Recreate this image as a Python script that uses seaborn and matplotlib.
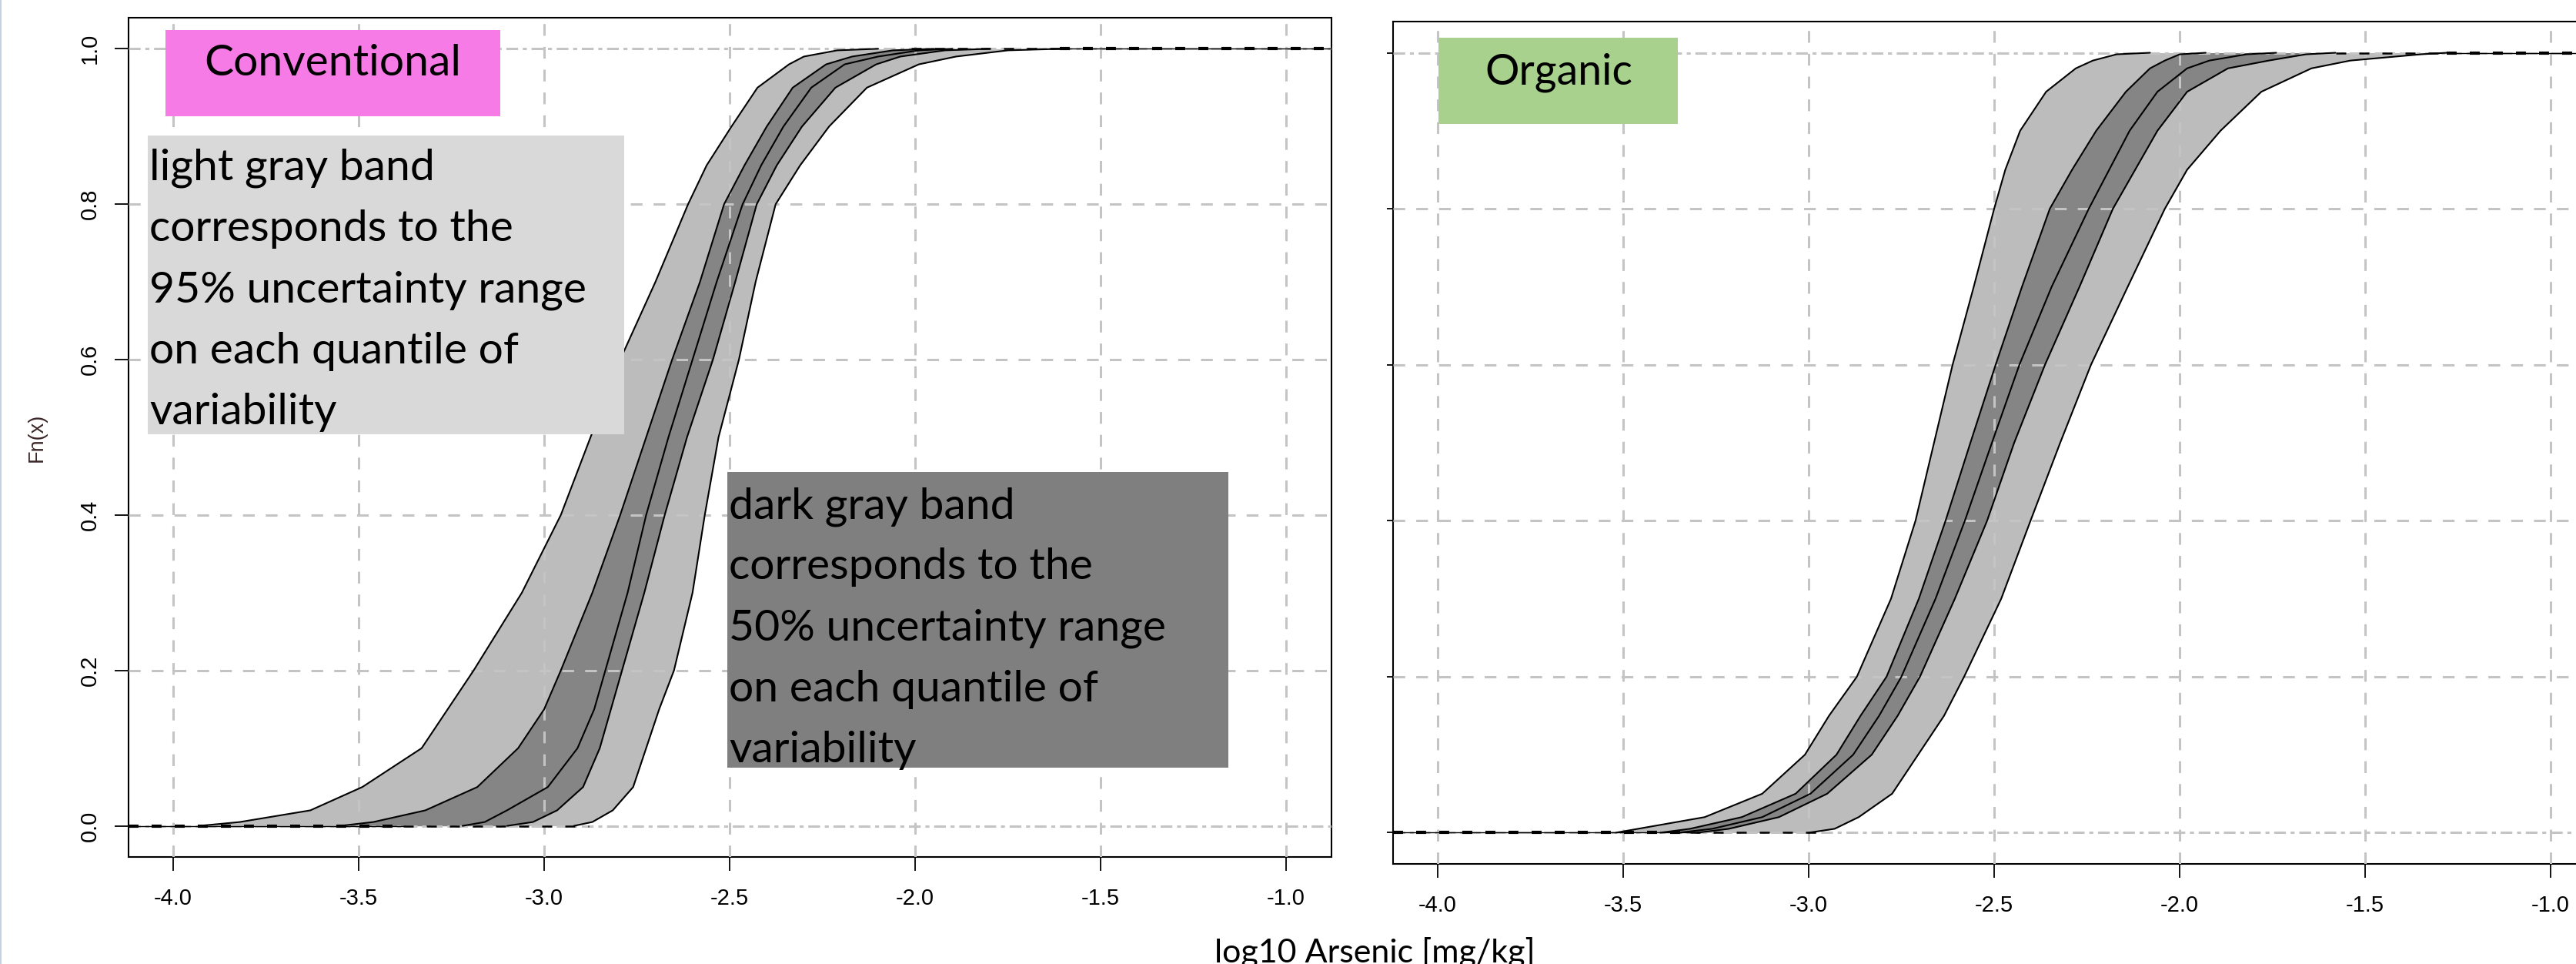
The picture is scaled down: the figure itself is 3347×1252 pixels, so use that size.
import matplotlib
matplotlib.use("Agg")
import matplotlib.pyplot as plt
import seaborn as sns
import numpy as np
from matplotlib.patches import Rectangle
from matplotlib.lines import Line2D

W, H = 3347, 1252

# probability levels shared by all quantile curves
niveis = [0, 0.005, 0.02, 0.05, 0.1, 0.15, 0.2, 0.3, 0.4, 0.5, 0.6, 0.7,
          0.8, 0.85, 0.9, 0.95, 0.98, 0.99, 0.998, 1.0]

# Conventional: log10 arsenic at each level, for the 2.5/25/50/75/97.5 % curves
conv_q025 = [-3.93, -3.82, -3.63, -3.49, -3.33, -3.26, -3.19, -3.06, -2.955, -2.875,
             -2.795, -2.70, -2.612, -2.562, -2.495, -2.425, -2.34, -2.30, -2.21, -2.10]
conv_q25 = [-3.55, -3.46, -3.32, -3.18, -3.07, -3.00, -2.955, -2.87, -2.795, -2.725,
            -2.655, -2.58, -2.515, -2.46, -2.40, -2.33, -2.24, -2.17, -2.06, -1.95]
conv_q50 = [-3.22, -3.16, -3.10, -2.99, -2.91, -2.865, -2.835, -2.775, -2.725, -2.665,
            -2.60, -2.535, -2.465, -2.415, -2.355, -2.28, -2.19, -2.10, -1.99, -1.90]
conv_q75 = [-3.10, -3.03, -2.965, -2.895, -2.85, -2.82, -2.79, -2.73, -2.675, -2.615,
            -2.545, -2.485, -2.427, -2.373, -2.305, -2.215, -2.105, -2.04, -1.92, -1.80]
conv_q975 = [-2.92, -2.87, -2.815, -2.76, -2.725, -2.69, -2.65, -2.60, -2.567, -2.53,
             -2.475, -2.43, -2.376, -2.31, -2.232, -2.13, -1.99, -1.89, -1.75, -1.61]

# Organic
org_q025 = [-3.52, -3.46, -3.28, -3.125, -3.01, -2.945, -2.87, -2.778, -2.712, -2.662,
            -2.612, -2.555, -2.50, -2.47, -2.43, -2.36, -2.28, -2.234, -2.17, -2.08]
org_q25 = [-3.40, -3.32, -3.18, -3.035, -2.925, -2.86, -2.79, -2.703, -2.631, -2.564,
           -2.496, -2.425, -2.35, -2.29, -2.225, -2.145, -2.08, -2.04, -2.00, -1.93]
org_q50 = [-3.35, -3.26, -3.125, -2.995, -2.88, -2.81, -2.75, -2.658, -2.579, -2.506,
           -2.432, -2.345, -2.245, -2.19, -2.135, -2.06, -1.98, -1.92, -1.82, -1.74]
org_q75 = [-3.30, -3.215, -3.08, -2.95, -2.83, -2.76, -2.70, -2.606, -2.519, -2.446,
           -2.363, -2.27, -2.18, -2.12, -2.06, -1.98, -1.87, -1.76, -1.66, -1.58]
org_q975 = [-3.00, -2.93, -2.865, -2.775, -2.705, -2.635, -2.581, -2.481, -2.402, -2.322,
            -2.239, -2.14, -2.04, -1.98, -1.89, -1.78, -1.645, -1.54, -1.35, -1.28]

# where the flat ecdf tails at 0 and 1 change from heavy to light dashes
conv_cauda0 = [-3.38, -2.88]
conv_cauda1 = [-2.01, -1.61]
org_cauda0 = [-3.32, -2.95]
org_cauda1 = [-1.58, -1.28]

x_ticks = [-4.0, -3.5, -3.0, -2.5, -2.0, -1.5, -1.0]
x_labels = ["-4.0", "-3.5", "-3.0", "-2.5", "-2.0", "-1.5", "-1.0"]
y_ticks = [0.0, 0.2, 0.4, 0.6, 0.8, 1.0]
y_labels = ["0.0", "0.2", "0.4", "0.6", "0.8", "1.0"]
xlim = (-4.12, -0.878)
ylim = (-0.04, 1.04)

sns.set_theme(style="white")
plt.rcParams["font.family"] = ["Liberation Sans", "DejaVu Sans"]


def fx(px):
    return px / W


def fy(py):
    return 1 - py / H


def desenha(ax, q025, q25, q50, q75, q975, cauda0, cauda1):
    ax.set_xlim(xlim)
    ax.set_ylim(ylim)
    ax.fill_betweenx(niveis, q025, q975, color="#bcbcbc", lw=0, zorder=1)
    ax.fill_betweenx(niveis, q25, q75, color="#858585", lw=0, zorder=1.5)

    ax.set_xticks(x_ticks)
    ax.set_xticklabels(x_labels)
    ax.set_yticks(y_ticks)
    ax.set_yticklabels(y_labels)
    ax.set_axisbelow(False)
    ax.grid(True, color="#c4c4c4", lw=2.2, linestyle=(0, (5, 4.7)))
    for g in (ax.get_ygridlines()[0], ax.get_ygridlines()[-1]):
        g.set_linestyle((0, (5, 2, 1.7, 2)))

    for q in (q025, q25, q50, q75, q975):
        sns.lineplot(x=q, y=niveis, orient="y", estimator=None, sort=False,
                     color="black", lw=1.5, ax=ax, zorder=3)

    # flat tails of the ecdf curves
    ax.plot([xlim[0], cauda0[0]], [0, 0], color="black", lw=1.0, zorder=3)
    ax.plot([xlim[0], cauda0[0]], [0, 0], color="black", lw=3, dashes=(3.1, 4.1), zorder=3)
    ax.plot([cauda0[0], cauda0[1]], [0, 0], color="black", lw=1.8, dashes=(5.2, 6.8), zorder=3)
    ax.plot([cauda1[0], cauda1[1]], [1, 1], color="black", lw=1.8, dashes=(5.2, 6.8), zorder=3)
    ax.plot([cauda1[1], xlim[1]], [1, 1], color="black", lw=1.0, zorder=3)
    ax.plot([cauda1[1], xlim[1]], [1, 1], color="black", lw=3, dashes=(3.1, 4.1), zorder=3)

    ax.set_xlabel("")
    ax.set_ylabel("")
    for s in ax.spines.values():
        s.set_visible(True)
        s.set_color("black")
        s.set_linewidth(1.5)
    ax.tick_params(axis="both", direction="out", length=13, width=1.3,
                   labelsize=21, colors="black", bottom=True, left=True)
    ax.tick_params(axis="x", pad=15.5)
    ax.tick_params(axis="y", pad=13, labelrotation=90)
    for lab in ax.get_yticklabels():
        lab.set_va("center")


fig = plt.figure(figsize=(W / 100, H / 100), dpi=100)
fig.patch.set_facecolor("white")

ax1 = fig.add_axes([fx(167), fy(1113), (1730 - 167) / W, (1113 - 23) / H])
ax2 = fig.add_axes([fx(1810), fy(1122), 1563 / W, (1122 - 28) / H])

desenha(ax1, conv_q025, conv_q25, conv_q50, conv_q75, conv_q975, conv_cauda0, conv_cauda1)
desenha(ax2, org_q025, org_q25, org_q50, org_q75, org_q975, org_cauda0, org_cauda1)
ax2.tick_params(axis="y", labelleft=False, length=6)

fig.text(fx(48), fy(568), "Fn(x)", rotation=90, ha="center", va="center",
         fontsize=19.5, color="#3a2626")

# annotation boxes pasted over the plots
caixas = [
    (215, 39, 650, 151, "#f67be7"),
    (192, 176, 811, 564, "#d9d9d9"),
    (945, 613, 1596, 997, "#7f7f7f"),
    (1869, 49, 2180, 161, "#a9d18e"),
]
for x0, y0, x1, y1, cor in caixas:
    fig.add_artist(Rectangle((fx(x0), fy(y1)), (x1 - x0) / W, (y1 - y0) / H,
                             transform=fig.transFigure, facecolor=cor,
                             edgecolor="none", zorder=5))

fonte = ["Lato", "DejaVu Sans"]
fig.text(fx(432), fy(57), "Conventional", ha="center", va="top",
         fontsize=41, family=fonte, color="black", zorder=6)
fig.text(fx(2025), fy(68), "Organic", ha="center", va="top",
         fontsize=40, family=fonte, color="black", zorder=6)
fig.text(fx(194), fy(193),
         "light gray band\ncorresponds to the\n95% uncertainty range\non each quantile of\nvariability",
         ha="left", va="top", fontsize=41, family=fonte, linespacing=1.68,
         color="black", zorder=6)
fig.text(fx(947), fy(632),
         "dark gray band\ncorresponds to the\n50% uncertainty range\non each quantile of\nvariability",
         ha="left", va="top", fontsize=41, family=fonte, linespacing=1.68,
         color="black", zorder=6)
fig.text(fx(1786), fy(1250), "log10 Arsenic [mg/kg]", ha="center", va="baseline",
         fontsize=31, family=fonte, color="black", zorder=6)

fig.add_artist(Line2D([fx(1), fx(1)], [0, 1], color="#c3d1e2", lw=1.5,
                      transform=fig.transFigure))

fig.savefig("out.png", dpi=100, facecolor="white")
